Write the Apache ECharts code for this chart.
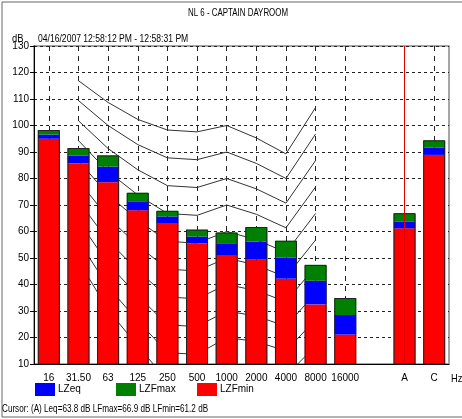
<!DOCTYPE html>
<html>
<head>
<meta charset="utf-8">
<script src="https://cdn.jsdelivr.net/npm/echarts@6/dist/echarts.min.js"></script>
<style>
  html, body { margin: 0; padding: 0; background: #fff; }
  #chart { width: 462px; height: 419px; }
</style>
</head>
<body>
<div id="chart"></div>
<script>
// octave bands + the A / C weighted totals (empty slot keeps the gap)
var bands = ['16', '31.50', '63', '125', '250', '500', '1000', '2000', '4000', '8000', '16000', '', 'A', 'C'];
var lzfMin = [95.0, 85.8, 78.6, 68.0, 63.2, 55.6, 51.1, 49.4, 42.2, 32.5, 21.1, null, 61.2, 88.9];
var lzeq   = [96.6, 88.7, 84.5, 71.4, 65.7, 58.1, 55.3, 56.2, 50.2, 41.4, 28.5, null, 63.8, 91.6];
var lzfMax = [98.3, 91.5, 88.7, 74.6, 67.8, 60.7, 59.6, 61.7, 56.5, 47.4, 34.9, null, 66.9, 94.4];
var yTicks = [10, 130, 10]; // min, max, step

// NR curves, drawn over 31.50 .. 8000
var nrBands = ['31.50', '63', '125', '250', '500', '1000', '2000', '4000', '8000'];
var nr100 = [116.9, 108.7, 102.3, 98.3, 97.6, 100, 95.3, 89.3, 106.8];
var nr90  = [109.4, 100.0, 92.8, 87.8, 87.1, 90, 85.7, 80.0, 96.8];
var nr80  = [101.8, 91.3, 83.3, 77.3, 76.6, 80, 76.1, 70.7, 86.8];
var nr70  = [94.3, 82.6, 73.8, 66.8, 66.1, 70, 66.5, 61.4, 76.8];
var nr60  = [86.7, 73.9, 64.3, 56.3, 55.6, 60, 56.9, 52.1, 66.8];
var nr50  = [79.2, 65.2, 54.8, 45.8, 45.1, 50, 47.3, 42.8, 56.8];
var nr40  = [71.6, 56.5, 45.3, 35.3, 34.6, 40, 37.7, 33.5, 46.8];
var nr30  = [64.1, 47.8, 35.8, 24.8, 24.1, 30, 28.1, 24.2, 36.8];
var nr20  = [56.5, 39.1, 26.3, 14.3, 13.6, 20, 18.5, 14.9, 26.8];
var nr10  = [49.0, 30.4, 16.8, 3.8, 3.1, 10, 8.9, 5.6, 16.8];
var nrCurves = [nr100, nr90, nr80, nr70, nr60, nr50, nr40, nr30, nr20, nr10];

var FONT = "'Liberation Sans Narrow', 'Liberation Sans', Arial, sans-serif";

function diff(a, b) {
    return a.map(function (v, i) {
        return v == null ? null : +(v - b[i]).toFixed(1);
    });
}
function onBands(vals) {
    return bands.map(function (b) {
        var i = nrBands.indexOf(b);
        return i < 0 ? null : vals[i];
    });
}
// squeezed text, the original uses a narrow font
function label(txt, x, y, sx) {
    return {
        type: 'text', x: x, y: y, scaleX: sx, silent: true,
        style: { text: txt, font: '11px ' + FONT, fill: '#000', textVerticalAlign: 'middle' }
    };
}

var myChart = echarts.init(document.getElementById('chart'));

var series = [];
nrCurves.forEach(function (c, k) {
    series.push({
        name: 'NR' + (100 - k * 10),
        type: 'line',
        data: onBands(c),
        showSymbol: false,
        silent: true,
        z: 1,
        lineStyle: { color: '#333', width: 1 }
    });
});
series.push(
    { name: 'LZFmin', type: 'bar', stack: 'lev', barWidth: 22, data: lzfMin, itemStyle: { color: '#ff0000' } },
    { name: 'LZeq', type: 'bar', stack: 'lev', barWidth: 22, data: diff(lzeq, lzfMin), itemStyle: { color: '#0000ff' } },
    { name: 'LZFmax', type: 'bar', stack: 'lev', barWidth: 22, data: diff(lzfMax, lzeq), itemStyle: { color: '#008000' } },
    {
        // outline round each column
        name: 'outline', type: 'bar', barWidth: 22, barGap: '-100%', data: lzfMax, silent: true, z: 3,
        itemStyle: { color: 'rgba(0,0,0,0)', borderColor: '#222', borderWidth: 1 },
        markLine: {
            silent: true, symbol: 'none', label: { show: false },
            lineStyle: { color: '#e00000', type: 'solid', width: 1 },
            data: [{ xAxis: 'A' }]
        }
    }
);

var legendCommon = {
    top: 383, padding: 0, icon: 'rect', itemWidth: 20, itemHeight: 13, selectedMode: false,
    textStyle: { fontFamily: FONT, fontSize: 10, color: '#000', padding: [0, 0, 0, -2] }
};

var option = {
    animation: false,
    textStyle: { fontFamily: FONT },
    grid: {
        left: 34, right: 13, top: 46, bottom: 55,
        show: true, borderColor: '#888', borderWidth: 1.5
    },
    legend: [
        Object.assign({ data: ['LZeq'], left: 35 }, legendCommon),
        Object.assign({ data: ['LZFmax'], left: 116 }, legendCommon),
        Object.assign({ data: ['LZFmin'], left: 197 }, legendCommon)
    ],
    xAxis: {
        type: 'category',
        data: bands,
        axisLine: { lineStyle: { color: '#000' } },
        axisTick: { alignWithLabel: true, length: 3, lineStyle: { color: '#000' } },
        axisLabel: { interval: 0, color: '#000', fontSize: 10, margin: 9 },
        splitLine: {
            show: true,
            alignWithLabel: true,
            interval: function (i) { return i !== 11 && i !== 12; },
            lineStyle: { color: '#222', type: [5, 5], width: 1 }
        }
    },
    yAxis: {
        type: 'value',
        min: yTicks[0], max: yTicks[1], interval: yTicks[2],
        axisLine: { show: true, lineStyle: { color: '#000' } },
        axisTick: { show: true, length: 4, lineStyle: { color: '#000' } },
        axisLabel: { color: '#000', fontSize: 10, margin: 5 },
        splitLine: { lineStyle: { color: '#222', type: [3, 3], width: 1 } }
    },
    graphic: [
        { type: 'rect', silent: true, shape: { x: 2, y: 2, width: 480, height: 415 }, style: { fill: 'none', stroke: '#666', lineWidth: 1 } },
        label('NL 6 - CAPTAIN DAYROOM', 188, 13, 0.72),
        label('dB', 12, 39, 0.85),
        label('04/16/2007 12:58:12 PM - 12:58:31 PM', 38, 39, 0.78),
        label('Hz', 451, 379, 0.85),
        label('Cursor: (A) Leq=63.8 dB LFmax=66.9 dB LFmin=61.2 dB', 2, 409, 0.74)
    ],
    series: series
};

myChart.setOption(option);
</script>
</body>
</html>
